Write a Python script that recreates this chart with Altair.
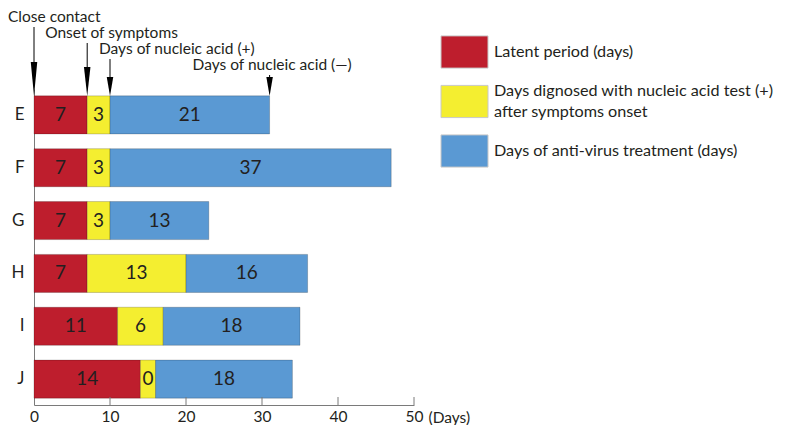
import altair as alt
import pandas as pd

# ---------------- data ----------------
patients = ["E", "F", "G", "H", "I", "J"]
latent_days = [7, 7, 7, 7, 11, 14]
positive_days = [3, 3, 3, 13, 6, 0]          # value printed in the bar
positive_drawn = [3, 3, 3, 13, 6, 2]         # width drawn in the figure
treatment_days = [21, 37, 13, 16, 18, 18]

series_names = [
    "Latent period (days)",
    "Days dignosed with nucleic acid test (+)|after symptoms onset",
    "Days of anti-virus treatment (days)",
]
series_colors = ["#BE1E2D", "#F4EE30", "#5A99D3"]

marker_days = [0, 7, 10, 31]
marker_labels = ["Close contact", "Onset of symptoms",
                 "Days of nucleic acid (+)", "Days of nucleic acid (\u2014)"]

x_ticks = [0, 10, 20, 30, 40, 50]

# ---------------- tables ----------------
rows = []
for i, p in enumerate(patients):
    drawn = [latent_days[i], positive_drawn[i], treatment_days[i]]
    shown = [latent_days[i], positive_days[i], treatment_days[i]]
    start = 0
    for k in range(3):
        rows.append({"patient": p, "series": series_names[k], "order": k,
                     "start": start, "end": start + drawn[k], "value": shown[k]})
        start += drawn[k]
seg = pd.DataFrame(rows)

legend_df = pd.DataFrame({
    "series": series_names,
    "nlines": [len(s.split("|")) for s in series_names],
})

W, H = 380, 316
FONT = "Lato"
TXT = "#231F20"
GRAY = "#7a7a7a"
FS_ANN = 15.5
FS_LEG = 16.2

x_axis = alt.Axis(values=x_ticks, ticks=False, grid=False, domainColor=GRAY,
                  domainWidth=1, labelFontSize=15.5, labelColor=TXT, labelPadding=4,
                  labelFlush=False, title="(Days)", titleFontSize=15.5,
                  titleFontWeight="normal", titleColor=TXT, titleAngle=0,
                  titleX=394, titleY=17, titleAlign="left",
                  titleBaseline="alphabetic")
x_scale = alt.Scale(domain=[0, 50], nice=False)


def X(field):
    return alt.X(field, scale=x_scale, axis=x_axis, title="(Days)")


y_scale = alt.Scale(domain=patients, paddingInner=0.28, paddingOuter=0.13)
y_axis = alt.Axis(title=None, ticks=False, tickSize=0, domainColor=GRAY,
                  domainWidth=1, labelFontSize=17, labelColor=TXT, labelPadding=10)

color = alt.Color("series:N", scale=alt.Scale(domain=series_names, range=series_colors),
                  legend=None)

base = alt.Chart(seg)

bars = base.mark_bar(stroke="black", strokeOpacity=0.25, strokeWidth=0.8).encode(
    x=X("start:Q"),
    x2="end:Q",
    y=alt.Y("patient:N", sort=patients, scale=y_scale, axis=y_axis),
    color=color,
    order="order:Q",
)

labels = base.mark_text(fontSize=19, color=TXT, baseline="middle", align="center").transform_calculate(
    mid="(datum.start + datum.end) / 2"
).encode(
    x=X("mid:Q"),
    y=alt.Y("patient:N", sort=patients, scale=y_scale, axis=None),
    text="value:N",
)

ticks_df = pd.DataFrame({"t": x_ticks[1:]})
inner_ticks = alt.Chart(ticks_df).mark_rule(color=GRAY, strokeWidth=1).encode(
    x=X("t:Q"), y=alt.value(H - 8), y2=alt.value(H)
)

# ---------------- legend (own band scale, placed above/right of the plot) ----------------
leg_y = alt.Y("series:N", sort=series_names,
              scale=alt.Scale(domain=series_names, range=[-61.75, 86.75],
                              paddingInner=0.35, paddingOuter=0.175),
              axis=None)
leg_base = alt.Chart(legend_df)
leg_boxes = leg_base.mark_rect(stroke="#c8c8c8", strokeWidth=1).encode(
    x=alt.value(407), x2=alt.value(454), y=leg_y, color=color,
)
leg_text1 = leg_base.transform_filter("datum.nlines == 1").mark_text(
    align="left", baseline="middle", fontSize=FS_LEG, color=TXT
).encode(x=alt.value(460), y=leg_y, text="series:N")
leg_text2 = leg_base.transform_filter("datum.nlines > 1").mark_text(
    align="left", baseline="middle", fontSize=FS_LEG, color=TXT,
    lineBreak="|", lineHeight=21, dy=-10.5
).encode(x=alt.value(460), y=leg_y, text="series:N")

# ---------------- annotation arrows ----------------
# style per marker: text dx, text y, line top, head length
ann_style = [
    (-26, -72, -62, 34),
    (-42, -56, -46, 29),
    (-11, -40, -30, 19),
    (-77, -24, -14, 19),
]
TIP = 7  # bar top relative to plot top
ann_layers = []
for j, (d, lab) in enumerate(zip(marker_days, marker_labels)):
    dx, ty, ltop, L = ann_style[j]
    df = pd.DataFrame({"day": [d], "label": [lab]})
    c = alt.Chart(df)
    hw = 6.5 / L
    shape = f"M{-hw:.3f},-1L{hw:.3f},-1L0,1Z"
    ann_layers.append(c.mark_text(fontSize=FS_ANN, color=TXT, align="left",
                                  baseline="middle", dx=dx).encode(
        x=X("day:Q"), y=alt.value(ty), text="label:N"))
    ann_layers.append(c.mark_rule(color="black", strokeWidth=1).encode(
        x=X("day:Q"), y=alt.value(ltop), y2=alt.value(TIP - L / 2)))
    ann_layers.append(c.mark_point(shape=shape, size=L * L, filled=True, fill="black",
                                   opacity=1, strokeWidth=0).encode(
        x=X("day:Q"), y=alt.value(TIP - L / 2)))

chart = alt.layer(bars, labels, inner_ticks, leg_boxes, leg_text1, leg_text2,
                  *ann_layers).resolve_scale(y="independent").properties(
    width=W, height=H,
    autosize=alt.AutoSizeParams(type="none"),
    padding={"left": 26, "top": 81, "right": 365, "bottom": 20},
).configure(font=FONT).configure_view(stroke=None)

chart.save("out.html", embed_options={"renderer": "svg", "actions": False})
